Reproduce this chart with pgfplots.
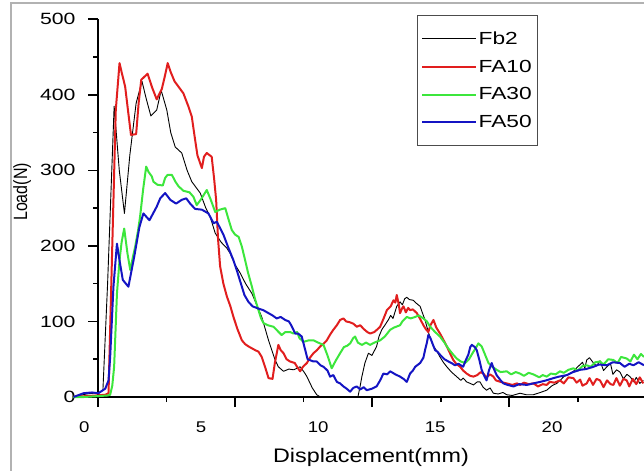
\documentclass[border=0pt]{standalone}
\usepackage{pgfplots}
\pgfplotsset{compat=1.18}
\usepackage{fontspec}
\usepackage{graphicx}
\setmainfont{Liberation Sans}
\newfontfamily\ftick{Liberation Sans}[FakeStretch=1.3]
\newfontfamily\fxtick{Liberation Sans}[FakeStretch=1.2]
\newfontfamily\ftitle{Liberation Sans}[FakeStretch=1.19]
\newfontfamily\fleg{Liberation Sans}[FakeStretch=1.3]
\definecolor{cred}{RGB}{225,30,30}
\definecolor{cgreen}{RGB}{60,230,60}
\definecolor{cblue}{RGB}{20,20,195}
\begin{document}
\begin{tikzpicture}
\useasboundingbox (0,0) rectangle (644bp,471bp);
\draw[black!30, line width=1.5bp] (11bp,-5bp) -- (11bp,468bp) -- (650bp,468bp);
\begin{axis}[
  at={(98bp,74bp)}, anchor=south west,
  scale only axis, width=546bp, height=377.7bp,
  xmin=0.59, xmax=23.93, ymin=0, ymax=500,
  axis x line*=bottom, axis y line*=left,
  axis line style={line width=1.6bp, black},
  clip=false,
  xtick={0.59,6.45,12.31,18.17}, xticklabels={,,,},
  minor xtick={3.52,9.38,15.24,21.10},
  ytick={0,100,200,300,400,500},
  minor ytick={50,150,250,350,450},
  tick align=outside,
  major tick length=10bp, minor tick length=5bp,
  tick style={line width=1.6bp, black},
  /pgf/number format/assume math mode=true,
  yticklabel style={font=\ftick\fontsize{16.3bp}{18bp}\selectfont, xshift=-9bp},
  xlabel={Displacement(mm)},
  xlabel style={font=\ftitle\fontsize{19.6bp}{22bp}\selectfont, at={(axis description cs:0.5,0)}, anchor=base, yshift=-65bp},
  ylabel={\scalebox{1}[1.2]{Load(N)}},
  ylabel style={font=\fontsize{16bp}{18bp}\selectfont, at={(axis description cs:-0.130,0.543)}, anchor=base},
  legend style={at={(axis description cs:0.584,1.0114)}, anchor=north west, draw=black!70, line width=0.6bp, fill=white, inner xsep=4bp, inner ysep=15bp, row sep=11bp, font=\fleg\fontsize{17.5bp}{19bp}\selectfont, nodes={inner sep=1.5bp}},
  legend cell align=left,
  legend image code/.code={\draw[#1] (0bp,0bp) -- (54bp,0bp);},
  every axis plot/.append style={line join=round},
]
% Fb2
\addplot[black, line width=0.9bp] coordinates {
(-0.5,0) (-0.2,2) (0.1,4) (0.4,5) (0.6,5) (0.8,9) (1.0,150) (1.28,385) (1.5,300) (1.72,243) (1.95,320) (2.22,389) (2.47,418) (2.65,395) (2.85,372) (3.1,380) (3.29,406) (3.53,380) (3.7,350) (3.89,331) (4.17,323) (4.4,300) (4.6,285) (4.96,270) (5.2,250) (5.38,239) (5.6,217) (5.85,205) (6.1,197) (6.24,190) (6.45,175) (6.67,164) (6.9,150) (7.17,137) (7.4,120) (7.59,106) (7.88,75) (8.16,49) (8.3,40) (8.52,34) (8.75,37) (8.95,36) (9.1,38) (9.23,40) (9.4,33) (9.52,27) (9.75,12) (9.94,3) (10.1,0) (11.7,0) (11.8,15) (11.87,27) (12.0,45) (12.15,58) (12.3,55) (12.5,67) (12.6,80) (12.72,89) (12.85,95) (13.0,102) (13.1,108) (13.2,104) (13.36,120) (13.5,126) (13.6,122) (13.7,130) (13.79,132) (13.9,129) (14.07,128) (14.2,124) (14.36,120) (14.45,112) (14.57,102) (14.71,86) (14.8,78) (14.93,67) (15.05,62) (15.21,53) (15.35,46) (15.5,40) (15.7,33) (15.92,27) (16.1,22) (16.2,25) (16.35,20) (16.5,18) (16.64,16) (16.8,20) (16.92,20) (17.05,13) (17.2,9) (17.35,12) (17.49,5) (17.7,4) (17.9,6) (18.06,3) (18.3,2) (18.63,5) (18.9,3) (19.2,3) (19.5,6) (19.77,9) (20.0,15) (20.2,18) (20.34,22) (20.5,27) (20.7,30) (20.91,34) (21.1,40) (21.3,46) (21.4,38) (21.48,49) (21.6,52) (21.77,45) (21.9,41) (22.05,48) (22.2,35) (22.34,40) (22.5,44) (22.6,30) (22.76,36) (22.9,33) (23.05,24) (23.2,30) (23.33,27) (23.5,20) (23.6,26) (23.75,18) (23.9,22)
};
\addlegendentry{Fb2}
% FA10
\addplot[cred, line width=2bp] coordinates {
(-0.5,0) (0.0,1) (0.5,2) (0.9,3) (1.04,5) (1.2,200) (1.35,380) (1.51,442) (1.6,430) (1.75,411) (1.87,380) (2.0,347) (2.22,348) (2.33,390) (2.44,420) (2.71,428) (2.9,410) (3.1,394) (3.32,408) (3.45,425) (3.57,442) (3.7,430) (3.86,418) (4.05,410) (4.24,402) (4.45,385) (4.6,371) (4.72,345) (4.84,320) (5.03,303) (5.12,318) (5.24,323) (5.45,318) (5.55,290) (5.64,261) (5.72,210) (5.81,173) (5.95,150) (6.1,133) (6.25,120) (6.38,106) (6.55,90) (6.74,75) (6.88,70) (7.02,67) (7.31,62) (7.45,60) (7.59,53) (7.75,38) (7.88,25) (8.05,24) (8.15,45) (8.3,69) (8.4,62) (8.52,58) (8.65,50) (8.8,47) (9.0,45) (9.1,40) (9.23,34) (9.35,40) (9.52,45) (9.65,52) (9.8,58) (9.95,62) (10.09,67) (10.25,71) (10.37,75) (10.5,82) (10.65,89) (10.8,95) (10.94,102) (11.08,104) (11.2,100) (11.35,99) (11.51,97) (11.65,93) (11.8,95) (11.95,90) (12.1,86) (12.22,84) (12.4,86) (12.55,90) (12.65,93) (12.8,104) (12.94,115) (13.1,120) (13.22,128) (13.3,125) (13.36,135) (13.45,122) (13.5,111) (13.6,118) (13.65,120) (13.75,112) (13.85,118) (13.93,115) (14.05,116) (14.22,111) (14.35,104) (14.5,95) (14.6,90) (14.71,86) (14.8,95) (14.93,102) (15.05,92) (15.21,84) (15.35,76) (15.5,67) (15.65,57) (15.78,49) (15.9,44) (16.07,40) (16.2,35) (16.35,31) (16.5,28) (16.64,27) (16.8,29) (16.95,33) (17.06,31) (17.2,26) (17.35,30) (17.49,27) (17.6,22) (17.8,20) (18.06,18) (18.3,16) (18.5,18) (18.63,16) (18.8,19) (19.0,17) (19.2,18) (19.4,14) (19.6,17) (19.77,16) (19.9,20) (20.1,19) (20.34,22) (20.5,18) (20.7,26) (20.91,25) (21.05,19) (21.2,23) (21.3,15) (21.48,18) (21.6,25) (21.75,16) (21.9,24) (22.05,22) (22.2,13) (22.35,22) (22.5,17) (22.62,16) (22.75,25) (22.9,15) (23.05,24) (23.19,22) (23.3,14) (23.45,24) (23.6,17) (23.75,26) (23.9,18)
};
\addlegendentry{FA10}
% FA30
\addplot[cgreen, line width=2bp] coordinates {
(-0.5,0) (0,0) (0.5,1) (1.0,2) (1.11,3) (1.2,15) (1.28,40) (1.4,137) (1.51,181) (1.6,205) (1.71,223) (1.85,190) (1.97,168) (2.08,185) (2.18,199) (2.3,220) (2.39,239) (2.52,275) (2.65,305) (2.75,298) (2.89,292) (2.96,285) (3.13,281) (3.36,280) (3.46,290) (3.56,294) (3.75,294) (3.9,285) (4.03,279) (4.24,273) (4.5,271) (4.67,265) (4.81,254) (5.0,262) (5.24,274) (5.4,262) (5.6,245) (5.8,248) (6.03,250) (6.2,232) (6.31,221) (6.45,215) (6.6,212) (6.74,199) (6.88,181) (7.0,165) (7.17,146) (7.3,130) (7.45,115) (7.55,105) (7.66,98) (7.85,95) (8.09,93) (8.25,88) (8.44,82) (8.6,86) (8.8,86) (8.95,84) (9.1,86) (9.2,78) (9.37,73) (9.6,75) (9.8,75) (10.0,72) (10.23,69) (10.4,55) (10.58,38) (10.75,48) (10.94,58) (11.1,66) (11.25,68) (11.37,71) (11.5,78) (11.58,80) (11.7,72) (11.87,69) (12.05,72) (12.22,69) (12.4,72) (12.65,75) (12.85,80) (13.08,89) (13.25,92) (13.5,95) (13.6,100) (13.79,106) (13.95,104) (14.15,106) (14.3,108) (14.5,104) (14.65,100) (14.79,93) (15.0,86) (15.21,80) (15.4,72) (15.57,64) (15.75,57) (15.92,51) (16.1,47) (16.28,45) (16.45,50) (16.6,58) (16.78,67) (16.85,71) (16.99,67) (17.15,55) (17.28,45) (17.45,40) (17.63,36) (17.8,33) (18.06,34) (18.25,30) (18.45,33) (18.63,31) (18.8,28) (19.0,32) (19.2,30) (19.45,26) (19.6,29) (19.77,27) (19.95,31) (20.15,30) (20.34,34) (20.5,32) (20.7,36) (20.91,38) (21.1,35) (21.3,41) (21.48,42) (21.65,40) (21.85,46) (22.05,47) (22.2,43) (22.4,50) (22.62,49) (22.8,45) (22.95,53) (23.19,51) (23.35,47) (23.5,56) (23.65,50) (23.8,57) (23.93,53)
};
\addlegendentry{FA30}
% FA50
\addplot[cblue, line width=2bp] coordinates {
(-0.46,0) (-0.2,3) (-0.03,5) (0.33,6) (0.61,5) (0.9,11) (1.04,22) (1.11,53) (1.25,146) (1.4,203) (1.51,181) (1.65,155) (1.89,146) (2.14,186) (2.36,225) (2.53,243) (2.79,234) (3.1,252) (3.25,263) (3.46,270) (3.68,261) (3.93,256) (4.17,261) (4.36,263) (4.53,256) (4.74,249) (5.03,248) (5.31,243) (5.53,230) (5.67,232) (5.95,215) (6.17,197) (6.38,181) (6.55,165) (6.67,153) (6.85,135) (7.02,126) (7.2,120) (7.45,117) (7.65,115) (7.88,111) (8.05,108) (8.23,104) (8.4,106) (8.59,102) (8.75,100) (8.85,95) (9.02,84) (9.15,84) (9.3,80) (9.45,62) (9.55,50) (9.8,47) (9.94,47) (10.1,42) (10.23,40) (10.4,35) (10.51,27) (10.65,29) (10.8,20) (10.94,18) (11.08,14) (11.22,11) (11.37,7) (11.5,12) (11.65,14) (11.8,10) (11.95,13) (12.08,9) (12.3,11) (12.5,14) (12.65,22) (12.79,31) (12.95,30) (13.08,34) (13.3,30) (13.5,27) (13.65,24) (13.79,20) (13.93,31) (14.05,35) (14.15,40) (14.36,45) (14.5,52) (14.57,62) (14.65,72) (14.71,82) (14.8,78) (14.86,73) (15.0,62) (15.1,60) (15.21,56) (15.4,50) (15.57,47) (15.7,45) (15.85,42) (16.0,44) (16.2,40) (16.3,48) (16.42,56) (16.5,66) (16.57,69) (16.7,66) (16.78,62) (16.9,48) (16.99,36) (17.1,28) (17.2,22) (17.3,35) (17.42,45) (17.5,38) (17.63,29) (17.8,22) (17.92,18) (18.1,16) (18.35,14) (18.6,17) (18.92,16) (19.2,18) (19.49,20) (19.75,22) (20.06,25) (20.3,27) (20.63,29) (20.9,33) (21.2,36) (21.45,37) (21.77,40) (22.0,43) (22.34,42) (22.6,46) (22.9,45) (23.1,40) (23.3,44) (23.48,42) (23.7,46) (23.93,42)
};
\addlegendentry{FA50}
\node[font=\fxtick\fontsize{15.5bp}{17bp}\selectfont, anchor=base, yshift=-35.5bp] at (axis cs:0,0) {0};
\node[font=\fxtick\fontsize{15.5bp}{17bp}\selectfont, anchor=base, yshift=-35.5bp] at (axis cs:5,0) {5};
\node[font=\fxtick\fontsize{15.5bp}{17bp}\selectfont, anchor=base, yshift=-35.5bp] at (axis cs:10,0) {10};
\node[font=\fxtick\fontsize{15.5bp}{17bp}\selectfont, anchor=base, yshift=-35.5bp] at (axis cs:15,0) {15};
\node[font=\fxtick\fontsize{15.5bp}{17bp}\selectfont, anchor=base, yshift=-35.5bp] at (axis cs:20,0) {20};
\end{axis}
\end{tikzpicture}
\end{document}
